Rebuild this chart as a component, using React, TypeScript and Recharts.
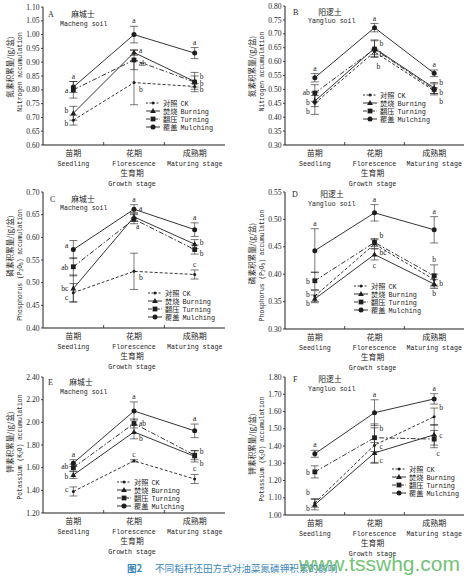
import React from 'react';
import { LineChart, Line, XAxis, YAxis, ErrorBar, ReferenceDot, Legend } from 'recharts';

const CN_FONT = '"Noto Sans CJK SC", "Noto Sans CJK JP", sans-serif';
const EN_FONT = '"Liberation Mono", "DejaVu Sans Mono", monospace';
const NUM_FONT = '"Liberation Serif", "DejaVu Serif", serif';
const INK = '#1e1e1e';

// ---------- categories / labels ----------
const stagesCn = ['苗期', '花期', '成熟期'];
const stagesEn = ['Seedling', 'Florescence', 'Maturing stage'];
const treatKeys = ['ck', 'burning', 'turning', 'mulching'];
const treatCn = ['对照', '焚烧', '翻压', '覆盖'];
const treatEn = ['CK', 'Burning', 'Turning', 'Mulching'];

// ---------- A: nitrogen, Macheng soil ----------
const nMachengCk = [0.69, 0.826, 0.812];
const nMachengBurning = [0.715, 0.935, 0.83];
const nMachengTurning = [0.8, 0.908, 0.828];
const nMachengMulching = [0.81, 1.0, 0.933];
const nMachengCkSd = [0.018, 0.08, 0.01];
const nMachengBurningSd = [0.025, 0.01, 0.02];
const nMachengTurningSd = [0.03, 0.035, 0.035];
const nMachengMulchingSd = [0.02, 0.03, 0.02];
const nMachengLetters = [['b', 'b', 'b'], ['b', 'a', 'b'], ['a', 'ab', 'b'], ['a', 'a', 'a']];
const nMachengTicks = ['0.60', '0.65', '0.70', '0.75', '0.80', '0.85', '0.90', '0.95', '1.00', '1.05', '1.10'];

// ---------- B: nitrogen, Yangluo soil ----------
const nYangluoCk = [0.45, 0.635, 0.495];
const nYangluoBurning = [0.458, 0.648, 0.505];
const nYangluoTurning = [0.487, 0.645, 0.5];
const nYangluoMulching = [0.542, 0.722, 0.558];
const nYangluoCkSd = [0.04, 0.01, 0.01];
const nYangluoBurningSd = [0.02, 0.03, 0.02];
const nYangluoTurningSd = [0.03, 0.03, 0.02];
const nYangluoMulchingSd = [0.015, 0.015, 0.012];
const nYangluoLetters = [['b', 'b', 'b'], ['b', 'b', 'b'], ['ab', 'b', 'b'], ['a', 'a', 'a']];
const nYangluoTicks = ['0.30', '0.35', '0.40', '0.45', '0.50', '0.55', '0.60', '0.65', '0.70', '0.75', '0.80'];

// ---------- C: phosphorus, Macheng soil ----------
const pMachengCk = [0.478, 0.525, 0.518];
const pMachengBurning = [0.487, 0.645, 0.585];
const pMachengTurning = [0.535, 0.64, 0.573];
const pMachengMulching = [0.573, 0.662, 0.617];
const pMachengCkSd = [0.02, 0.04, 0.01];
const pMachengBurningSd = [0.03, 0.01, 0.01];
const pMachengTurningSd = [0.02, 0.01, 0.01];
const pMachengMulchingSd = [0.02, 0.01, 0.015];
const pMachengLetters = [['c', 'b', 'c'], ['bc', 'a', 'b'], ['ab', 'a', 'b'], ['a', 'a', 'a']];
const pMachengTicks = ['0.40', '0.45', '0.50', '0.55', '0.60', '0.65', '0.70'];

// ---------- D: phosphorus, Yangluo soil ----------
const pYangluoCk = [0.36, 0.455, 0.39];
const pYangluoBurning = [0.355, 0.436, 0.382];
const pYangluoTurning = [0.388, 0.458, 0.397];
const pYangluoMulching = [0.443, 0.512, 0.481];
const pYangluoCkSd = [0.01, 0.008, 0.01];
const pYangluoBurningSd = [0.007, 0.01, 0.008];
const pYangluoTurningSd = [0.016, 0.007, 0.02];
const pYangluoMulchingSd = [0.04, 0.015, 0.024];
const pYangluoLetters = [['b', 'bc', 'b'], ['b', 'c', 'b'], ['b', 'b', 'b'], ['a', 'a', 'a']];
const pYangluoTicks = ['0.30', '0.35', '0.40', '0.45', '0.50', '0.55'];

// ---------- E: potassium, Macheng soil ----------
const kMachengCk = [1.39, 1.66, 1.5];
const kMachengBurning = [1.535, 1.915, 1.7];
const kMachengTurning = [1.6, 1.99, 1.71];
const kMachengMulching = [1.64, 2.1, 1.925];
const kMachengCkSd = [0.04, 0.01, 0.04];
const kMachengBurningSd = [0.03, 0.06, 0.05];
const kMachengTurningSd = [0.03, 0.04, 0.04];
const kMachengMulchingSd = [0.03, 0.08, 0.06];
const kMachengLetters = [['c', 'c', 'c'], ['b', 'b', 'b'], ['ab', 'ab', 'b'], ['a', 'a', 'a']];
const kMachengTicks = ['1.20', '1.40', '1.60', '1.80', '2.00', '2.20', '2.40'];

// ---------- F: potassium, Yangluo soil ----------
const kYangluoCk = [1.07, 1.405, 1.57];
const kYangluoBurning = [1.06, 1.36, 1.465];
const kYangluoTurning = [1.25, 1.448, 1.44];
const kYangluoMulching = [1.355, 1.593, 1.673];
const kYangluoCkSd = [0.025, 0.1, 0.05];
const kYangluoBurningSd = [0.03, 0.06, 0.06];
const kYangluoTurningSd = [0.035, 0.08, 0.05];
const kYangluoMulchingSd = [0.02, 0.075, 0.03];
const kYangluoLetters = [['b', 'c', 'b'], ['b', 'c', 'c'], ['b', 'b', 'c'], ['a', 'a', 'a']];
const kYangluoTicks = ['1.00', '1.10', '1.20', '1.30', '1.40', '1.50', '1.60', '1.70', '1.80'];

// ---------- layout (positions / styles only) ----------
type Place = [string, number, number];
const T: Place = ['t', 0, 0];
const placeA: Place[][] = [
  [['l', 0, 3], ['r', 0, 6], ['r', 0, 3]],
  [['l', 0, -3], ['r', 0, -3], ['r', 0, 1]],
  [['l', 0, 0], ['r', 0, 3], ['r', 0, -6]],
  [T, T, T],
];
const placeB: Place[][] = [
  [['l', 0, 8], ['r', -3, 14], ['r', 0, 10]],
  [['l', 0, 1], ['r', 0, -5], ['r', 0, -6]],
  [['l', 0, -1], ['r', 0, 5], ['r', 0, 3]],
  [T, T, T],
];
const placeC: Place[][] = [
  [['l', 0, 4], ['r', 0, 6], T],
  [['l', 0, -1], ['r', 0, -9], ['r', 0, -2]],
  [['l', 0, 0], ['r', -3, 7], ['r', 0, 3]],
  [['l', 0, -5], T, T],
];
const placeD: Place[][] = [
  [['l', 0, -2], ['r', 0, 8], ['r', 0, 3]],
  [['l', 0, 4], ['b', 0, 0], ['b', 0, 0]],
  [['l', 0, 0], ['r', 0, -7], T],
  [T, T, T],
];
const placeE: Place[][] = [
  [['l', 0, -2], T, T],
  [['l', 0, 1], ['r', 0, 6], ['r', 0, 7]],
  [['l', 0, -2], ['r', 0, 0], ['r', 0, -4]],
  [T, T, T],
];
const placeF: Place[][] = [
  [['l', 0, -11], ['r', 0, 1], ['r', 0, -10]],
  [['l', 0, 3], ['r', 0, 7], ['r', 0, 0]],
  [['l', 0, 0], ['r', 0, -10], ['b', 4, 0]],
  [T, T, T],
];

function buildRows(values: number[][], sds: number[][]) {
  return stagesEn.map((_, i) => {
    const row: any = { x: i + 0.5 };
    treatKeys.forEach((k, s) => {
      row[k] = values[s][i];
      row[k + 'Err'] = sds[s][i];
    });
    return row;
  });
}

const panels = [
  {
    tag: 'A', soilCn: '麻城士', soilEn: 'Macheng soil',
    yCn: '氮素积累量/(g/盆)', yEn: [['Nitrogen accumulation', '']],
    values: [nMachengCk, nMachengBurning, nMachengTurning, nMachengMulching],
    sds: [nMachengCkSd, nMachengBurningSd, nMachengTurningSd, nMachengMulchingSd],
    letters: nMachengLetters, place: placeA, ticks: nMachengTicks,
    left: 0, top: 0, width: 235, mTop: 7, mRight: 10, plotH: 138,
    leg: [146, 103], cnDy: -9, enDy: -4,
    tagPos: [48, 17, 83, 17, 60, 26],
  },
  {
    tag: 'B', soilCn: '阳逻土', soilEn: 'Yangluo soil',
    yCn: '氮素积累量/(g/盆)', yEn: [['Nitrogen accumulation', '']],
    values: [nYangluoCk, nYangluoBurning, nYangluoTurning, nYangluoMulching],
    sds: [nYangluoCkSd, nYangluoBurningSd, nYangluoTurningSd, nYangluoMulchingSd],
    letters: nYangluoLetters, place: placeB, ticks: nYangluoTicks,
    left: 242, top: 0, width: 229, mTop: 6, mRight: 7, plotH: 139,
    leg: [363, 95], cnDy: -9, enDy: -4,
    tagPos: [293, 15, 330, 15, 308, 23],
  },
  {
    tag: 'C', soilCn: '麻城士', soilEn: 'Macheng soil',
    yCn: '磷素积累量/(g/盆)', yEn: [['Phosphorus (P', ''], ['2', 'sub'], ['O', ''], ['5', 'sub'], [') accumulation', '']],
    values: [pMachengCk, pMachengBurning, pMachengTurning, pMachengMulching],
    sds: [pMachengCkSd, pMachengBurningSd, pMachengTurningSd, pMachengMulchingSd],
    letters: pMachengLetters, place: placeC, ticks: pMachengTicks,
    left: 0, top: 185, width: 235, mTop: 7, mRight: 10, plotH: 136,
    leg: [148, 293], cnDy: -14, enDy: 5,
    tagPos: [50, 202, 83, 202, 60, 210],
  },
  {
    tag: 'D', soilCn: '阳逻土', soilEn: 'Yangluo soil',
    yCn: '磷素积累量/(g/盆)', yEn: [['Phosphorus (P', ''], ['2', 'sub'], ['O', ''], ['5', 'sub'], [') accumulation', '']],
    values: [pYangluoCk, pYangluoBurning, pYangluoTurning, pYangluoMulching],
    sds: [pYangluoCkSd, pYangluoBurningSd, pYangluoTurningSd, pYangluoMulchingSd],
    letters: pYangluoLetters, place: placeD, ticks: pYangluoTicks,
    left: 242, top: 185, width: 229, mTop: 7, mRight: 7, plotH: 137,
    leg: [354, 286], cnDy: -7, enDy: 5,
    tagPos: [292, 197, 332, 197, 308, 206],
  },
  {
    tag: 'E', soilCn: '麻城士', soilEn: 'Macheng soil',
    yCn: '钾素积累量/(g/盆)', yEn: [['Potassium (K', ''], ['2', 'sub'], ['O) accumulation', '']],
    values: [kMachengCk, kMachengBurning, kMachengTurning, kMachengMulching],
    sds: [kMachengCkSd, kMachengBurningSd, kMachengTurningSd, kMachengMulchingSd],
    letters: kMachengLetters, place: placeE, ticks: kMachengTicks,
    left: 0, top: 370, width: 235, mTop: 7, mRight: 10, plotH: 136,
    leg: [117, 482], cnDy: -3, enDy: 2,
    tagPos: [48, 385, 81, 385, 60, 394],
  },
  {
    tag: 'F', soilCn: '阳逻土', soilEn: 'Yangluo soil',
    yCn: '钾素积累量/(g/盆)', yEn: [['Potassium (K', ''], ['2', 'sub'], ['O) accumulation', '']],
    values: [kYangluoCk, kYangluoBurning, kYangluoTurning, kYangluoMulching],
    sds: [kYangluoCkSd, kYangluoBurningSd, kYangluoTurningSd, kYangluoMulchingSd],
    letters: kYangluoLetters, place: placeF, ticks: kYangluoTicks,
    left: 242, top: 370, width: 229, mTop: 7, mRight: 7, plotH: 138,
    leg: [392, 469], cnDy: -2, enDy: 3,
    tagPos: [293, 382, 330, 382, 308, 391],
  },
];

const lineStyles: Record<string, { dash?: string; legDash?: string }> = {
  ck: { dash: '3 2', legDash: '2 1.5' },
  burning: {},
  turning: { dash: '5 2 1.5 2', legDash: '4 1.5 1 1.5' },
  mulching: {},
};

function Marker({ kind, cx, cy }: { kind: string; cx: number; cy: number }) {
  if (cx == null || cy == null || isNaN(cx) || isNaN(cy)) return <g />;
  if (kind === 'ck') return <circle cx={cx} cy={cy} r={1.5} fill={INK} />;
  if (kind === 'burning')
    return <polygon points={`${cx},${cy - 3} ${cx - 2.9},${cy + 2} ${cx + 2.9},${cy + 2}`} fill={INK} />;
  if (kind === 'turning') return <rect x={cx - 2.4} y={cy - 2.4} width={4.8} height={4.8} fill={INK} />;
  return <circle cx={cx} cy={cy} r={2.5} fill={INK} />;
}

const StageTick = (props: any) => {
  const { x, y, payload } = props;
  const v = payload.value;
  if (v === 1 || v === 2) return <line x1={x} x2={x} y1={y} y2={y - 3} stroke={INK} strokeWidth={0.8} />;
  if (v === 0 || v === 3) return <g />;
  const i = Math.floor(v);
  return (
    <g>
      <text x={x} y={y + 11} textAnchor="middle" fontFamily={CN_FONT} fontSize={8} fill={INK}>
        {stagesCn[i]}
      </text>
      <text x={x} y={y + 20.5} textAnchor="middle" fontFamily={EN_FONT} fontSize={6.6} fill={INK}>
        {stagesEn[i]}
      </text>
    </g>
  );
};

function LegendBox() {
  return (
    <svg width={90} height={36} style={{ display: 'block', overflow: 'visible' }}>
      {treatKeys.map((k, i) => {
        const y = 4 + i * 8;
        return (
          <g key={k}>
            <line x1={0} x2={14} y1={y} y2={y} stroke={INK} strokeWidth={0.9} strokeDasharray={lineStyles[k].legDash} />
            <Marker kind={k} cx={7} cy={y} />
            <text x={17} y={y + 2.6} fill={INK}>
              <tspan fontFamily={CN_FONT} fontSize={7.2}>{treatCn[i]}</tspan>
              <tspan fontFamily={EN_FONT} fontSize={6.8} dx={3}>{treatEn[i]}</tspan>
            </text>
          </g>
        );
      })}
    </svg>
  );
}

function Panel({ p }: { p: any }) {
  const rows = buildRows(p.values, p.sds);
  const height = p.mTop + p.plotH + 45;
  const tickNums = p.ticks.map((t: string) => Number(t));
  const dom: [number, number] = [tickNums[0], tickNums[tickNums.length - 1]];
  const tickText = (v: number) => {
    const idx = tickNums.findIndex((t: number) => Math.abs(t - v) < 1e-9);
    return idx >= 0 ? p.ticks[idx] : String(v);
  };

  const yTitle = (lp: any) => {
    const vb = lp.viewBox || {};
    const cy = vb.y + vb.height / 2;
    const xc = vb.x + 9.5;
    const xe = vb.x + 19.5;
    return (
      <g>
        <text x={xc} y={cy + p.cnDy} transform={`rotate(-90 ${xc} ${cy + p.cnDy})`} textAnchor="middle"
          dominantBaseline="central" fontFamily={CN_FONT} fontSize={7.6} fill={INK}>
          {p.yCn}
        </text>
        <text x={xe} y={cy + p.enDy} transform={`rotate(-90 ${xe} ${cy + p.enDy})`} textAnchor="middle"
          dominantBaseline="central" fontFamily={EN_FONT} fontSize={6.3} fill={INK}>
          {p.yEn.map((seg: any, j: number) =>
            seg[1] === 'sub' ? (
              <tspan key={j} fontSize={4.6} baselineShift="-25%">{seg[0]}</tspan>
            ) : (
              <tspan key={j}>{seg[0]}</tspan>
            )
          )}
        </text>
      </g>
    );
  };

  const xTitle = (lp: any) => {
    const vb = lp.viewBox || {};
    const cx = vb.x + vb.width / 2 - 2;
    return (
      <g>
        <text x={cx} y={vb.y + 31} textAnchor="middle" fontFamily={CN_FONT} fontSize={7.8} fill={INK}>生育期</text>
        <text x={cx} y={vb.y + 40.5} textAnchor="middle" fontFamily={EN_FONT} fontSize={6.6} fill={INK}>Growth stage</text>
      </g>
    );
  };

  const letterDots: any[] = [];
  treatKeys.forEach((k, s) => {
    rows.forEach((row: any, i: number) => {
      const [kind, dx, dy] = p.place[s][i] as Place;
      const txt = p.letters[s][i];
      const yv = kind === 't' ? row[k] + row[k + 'Err'] : kind === 'b' ? row[k] - row[k + 'Err'] : row[k];
      const lab = (lp: any) => {
        const vb = lp.viewBox || {};
        const cx = vb.x + (vb.width || 0) / 2;
        const cy = vb.y + (vb.height || 0) / 2;
        let x = cx + dx;
        let y = cy + dy;
        let anchor = 'middle';
        if (kind === 't') y += -3;
        else if (kind === 'b') y += 8;
        else if (kind === 'l') { x -= 5; y += 3; anchor = 'end'; }
        else { x += 5; y += 3; anchor = 'start'; }
        return (
          <text x={x} y={y} textAnchor={anchor} fontFamily={NUM_FONT} fontSize={7.6} fill={INK}>{txt}</text>
        );
      };
      letterDots.push(
        <ReferenceDot key={`${k}-${i}`} x={row.x} y={yv} r={0} fill="none" stroke="none" label={lab} ifOverflow="visible" />
      );
    });
  });

  return (
    <div style={{ position: 'absolute', left: p.left, top: p.top }}>
      <LineChart width={p.width} height={height} data={rows}
        margin={{ top: p.mTop, right: p.mRight, left: 0, bottom: 0 }}>
        <XAxis dataKey="x" type="number" domain={[0, 3]} ticks={[0, 0.5, 1, 1.5, 2, 2.5, 3]} interval={0}
          tick={<StageTick />} tickLine={false} tickSize={0} tickMargin={0} height={45}
          axisLine={{ stroke: INK, strokeWidth: 1 }} label={xTitle} allowDataOverflow />
        <YAxis type="number" domain={dom} ticks={tickNums} interval={0} width={43} tickSize={2} tickMargin={1.5}
          tickFormatter={tickText}
          tick={{ fontFamily: NUM_FONT, fontSize: 7.6, fill: INK }}
          tickLine={{ stroke: INK, strokeWidth: 0.8 }} axisLine={{ stroke: INK, strokeWidth: 1 }}
          label={yTitle} allowDataOverflow />
        {treatKeys.map((k) => (
          <Line key={k} dataKey={k} type="linear" stroke={INK} strokeWidth={0.9}
            strokeDasharray={lineStyles[k].dash} isAnimationActive={false}
            dot={(dp: any) => <Marker key={`${k}-${dp.index}`} kind={k} cx={dp.cx} cy={dp.cy} />}
            activeDot={false}>
            <ErrorBar dataKey={k + 'Err'} width={4} stroke={INK} strokeWidth={0.6} direction="y" isAnimationActive={false} />
          </Line>
        ))}
        {letterDots}
        <Legend layout="vertical" align="center" verticalAlign="middle"
          wrapperStyle={{ position: 'absolute', left: p.leg[0] - p.left, top: p.leg[1] - p.top - 4, width: 90, height: 36 }}
          content={() => <LegendBox />} />
      </LineChart>
    </div>
  );
}

export default function App() {
  return (
    <div style={{ position: 'relative', width: 471, height: 577, background: '#fff', overflow: 'hidden' }}>
      <style>{'body{margin:0;background:#fff;}'}</style>
      {panels.map((p) => (
        <Panel key={p.tag} p={p} />
      ))}
      <svg width={471} height={577} style={{ position: 'absolute', left: 0, top: 0, pointerEvents: 'none' }}>
        {panels.map((p) => (
          <g key={p.tag}>
            <text x={p.tagPos[0]} y={p.tagPos[1]} fontFamily={NUM_FONT} fontSize={8} fill={INK}>{p.tag}</text>
            <text x={p.tagPos[2]} y={p.tagPos[3]} textAnchor="middle" fontFamily={CN_FONT} fontSize={7.8} fill={INK}>{p.soilCn}</text>
            <text x={p.tagPos[4]} y={p.tagPos[5]} fontFamily={EN_FONT} fontSize={6.6} fill={INK}>{p.soilEn}</text>
          </g>
        ))}
        <text x={127} y={572} fontFamily={CN_FONT} fontSize={9.6} fontWeight="bold" fill="#3a86bb">图2</text>
        <text x={155} y={572} fontFamily={CN_FONT} fontSize={9.6} fill="#3a86bb">不同稻秆还田方式对油菜氮磷钾积累的影响</text>
        <text x={299} y={571} fontFamily='"Liberation Sans", Arial, sans-serif' fontSize={21} fill="#5cb85f" opacity={0.85}>www.tsswhg.com</text>
      </svg>
    </div>
  );
}
